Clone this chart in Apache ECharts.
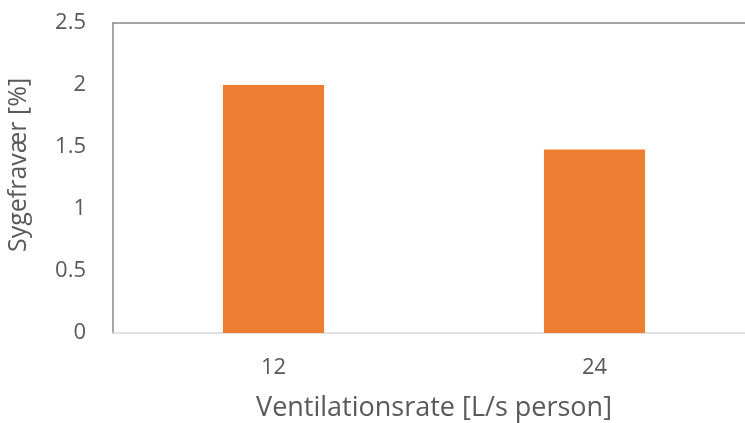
<!DOCTYPE html>
<html><head><meta charset="utf-8">
<script src="https://cdn.jsdelivr.net/npm/echarts@6/dist/echarts.min.js"></script>
<style>html,body{margin:0;padding:0;background:#fff}#c{width:745px;height:423px}</style>
</head><body><div id="c"></div>
<script>
const categories = ['12', '24'];
const values = [2.0, 1.48];
const yTicks = { min: 0, max: 2.5, interval: 0.5 };
const chart = echarts.init(document.getElementById('c'));
const font = '"Open Sans", "Liberation Sans", sans-serif';
chart.setOption({
  animation: false,
  grid: { left: 113, right: -10, top: 23, bottom: 90, containLabel: false, outerBoundsMode: 'none' },
  xAxis: [{
    type: 'category', data: categories,
    name: 'Ventilationsrate [L/s person]', nameLocation: 'middle', nameGap: 62,
    nameTextStyle: { fontFamily: font, fontSize: 27, color: '#595959' },
    axisLine: { lineStyle: { color: '#d9d9d9', width: 1.5 } },
    axisTick: { show: false },
    axisLabel: { fontFamily: font, fontSize: 22, color: '#595959', margin: 24 }
  }, {
    type: 'category', data: categories, position: 'top',
    axisLine: { show: true, lineStyle: { color: '#888888', width: 1.5 } },
    axisTick: { show: false }, axisLabel: { show: false }
  }],
  yAxis: {
    type: 'value', min: yTicks.min, max: yTicks.max, interval: yTicks.interval,
    name: 'Sygefravær [%]', nameLocation: 'middle', nameGap: 82,
    nameTextStyle: { fontFamily: font, fontSize: 25, color: '#595959', padding: [0, 0, 0, 26] },
    axisLine: { show: true, lineStyle: { color: '#888888', width: 1.5 } },
    axisTick: { show: false },
    splitLine: { show: false },
    axisLabel: { fontFamily: font, fontSize: 22, color: '#595959', margin: 27 }
  },
  series: [{
    type: 'bar', data: values, barWidth: '31.5%',
    itemStyle: { color: '#ED7D31' }
  }]
});
</script></body></html>
